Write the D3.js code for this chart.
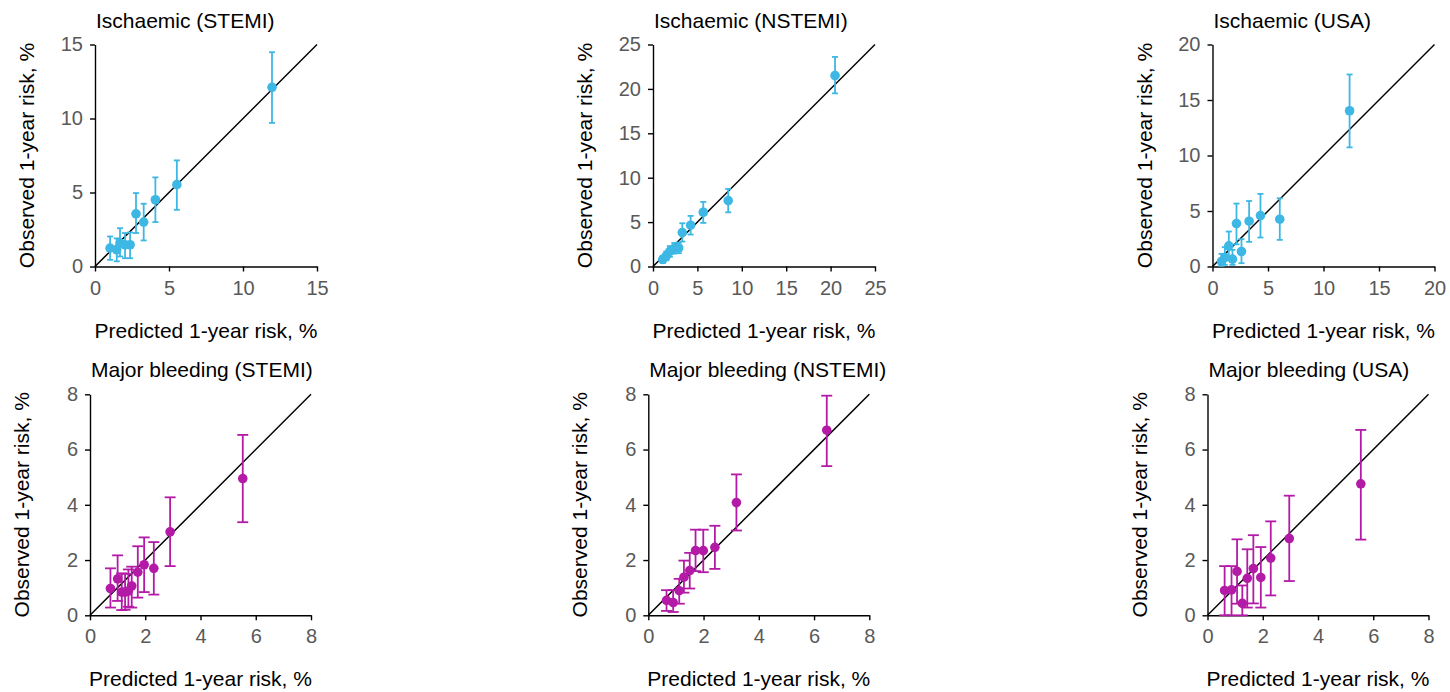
<!DOCTYPE html>
<html><head><meta charset="utf-8">
<script src="https://cdn.jsdelivr.net/npm/d3@7"></script>
<style>body{margin:0;background:#fff}svg{display:block}text{font-family:"Liberation Sans",Arial,sans-serif}</style>
</head><body><svg id="c" width="1450" height="692"></svg>
<script>
// ---- data ----
const titles = ["Ischaemic (STEMI)","Ischaemic (NSTEMI)","Ischaemic (USA)","Major bleeding (STEMI)","Major bleeding (NSTEMI)","Major bleeding (USA)"];
const axisMax = [15,25,20,8,8,8];
const tickStep = [5,5,5,2,2,2];
const xLabel = "Predicted 1-year risk, %";
const yLabel = "Observed 1-year risk, %";

const isStemiPred = [1.02,1.47,1.69,2.03,2.37,2.77,3.29,4.08,5.53,11.96];
const isStemiObs  = [1.24,1.13,1.58,1.47,1.47,3.56,3.00,4.51,5.53,12.11];
const isStemiLo   = [0.45,0.35,0.68,0.56,0.56,2.26,1.76,3.00,3.83,9.70];
const isStemiHi   = [2.03,1.90,2.59,2.26,2.30,4.96,4.24,6.02,7.17,14.48];

const isNstemiPred = [1.1,1.5,1.9,2.4,2.9,3.3,4.24,5.66,8.47,20.5];
const isNstemiObs  = [0.8,1.2,1.7,2.05,2.1,3.82,4.65,6.11,7.42,21.5];
const isNstemiLo   = [0.4,0.7,1.1,1.45,1.5,2.81,3.60,4.91,6.10,19.5];
const isNstemiHi   = [1.2,1.7,2.3,2.65,2.7,4.87,5.70,7.27,8.73,23.6];

const isUsaPred = [0.81,1.11,1.47,1.80,2.16,2.61,3.30,4.32,6.06,12.35];
const isUsaObs  = [0.45,0.81,1.86,0.66,3.87,1.35,4.08,4.59,4.26,14.03];
const isUsaLo   = [0.06,0.15,0.60,0.15,2.00,0.30,2.22,2.61,2.40,10.73];
const isUsaHi   = [1.14,1.74,3.15,1.50,5.67,2.46,5.90,6.54,6.15,17.30];

const blStemiPred = [0.74,1.00,1.15,1.27,1.39,1.51,1.73,1.96,2.31,2.90,5.53];
const blStemiObs  = [0.97,1.32,0.84,0.84,0.88,1.06,1.56,1.83,1.70,3.02,4.95];
const blStemiLo   = [0.28,0.52,0.19,0.20,0.31,0.28,0.64,0.84,0.75,1.78,3.37];
const blStemiHi   = [1.70,2.17,1.52,1.50,1.66,1.76,2.50,2.82,2.65,4.27,6.53];

const blNstemiPred = [0.66,0.90,1.12,1.29,1.50,1.71,1.99,2.41,3.19,6.46];
const blNstemiObs  = [0.54,0.46,0.89,1.38,1.62,2.34,2.34,2.46,4.08,6.70];
const blNstemiLo   = [0.16,0.12,0.42,0.82,0.97,1.60,1.56,1.68,3.07,5.40];
const blNstemiHi   = [0.91,0.91,1.32,1.98,2.26,3.10,3.10,3.24,5.10,7.95];

const blUsaPred = [0.62,0.87,1.07,1.26,1.44,1.66,1.93,2.29,2.96,5.55];
const blUsaObs  = [0.90,0.92,1.59,0.43,1.34,1.69,1.37,2.07,2.78,4.76];
const blUsaLo   = [0.00,0.00,0.42,0.00,0.28,0.43,0.28,0.72,1.24,2.74];
const blUsaHi   = [1.78,1.78,2.75,1.08,2.39,2.90,2.47,3.40,4.33,6.71];

const seriesPred = [isStemiPred,isNstemiPred,isUsaPred,blStemiPred,blNstemiPred,blUsaPred];
const seriesObs  = [isStemiObs,isNstemiObs,isUsaObs,blStemiObs,blNstemiObs,blUsaObs];
const seriesLo   = [isStemiLo,isNstemiLo,isUsaLo,blStemiLo,blNstemiLo,blUsaLo];
const seriesHi   = [isStemiHi,isNstemiHi,isUsaHi,blStemiHi,blNstemiHi,blUsaHi];

// ---- layout / style ----
const colors = ["#3DB7E4","#3DB7E4","#3DB7E4","#B31AA6","#B31AA6","#B31AA6"];
const panelLeft = [95,653,1212.5,90,648.3,1207.5];
const panelTop  = [44.5,44.5,44.5,394.3,394.3,394.3];
const panelSize = [222,222,222,221,221,221];
const capW = [6,6,6,11,11,11];

const svg = d3.select("#c");
titles.forEach((t,i)=>{
  const g = svg.append("g").attr("transform",`translate(${panelLeft[i]},${panelTop[i]})`);
  const s = panelSize[i];
  const x = d3.scaleLinear().domain([0,axisMax[i]]).range([0,s]);
  const y = d3.scaleLinear().domain([0,axisMax[i]]).range([s,0]);
  const ticks = d3.range(0,axisMax[i]+0.001,tickStep[i]);
  const xa = g.append("g").attr("transform",`translate(0,${s})`)
    .call(d3.axisBottom(x).tickValues(ticks).tickSize(5).tickPadding(9).tickSizeOuter(0));
  const ya = g.append("g")
    .call(d3.axisLeft(y).tickValues(ticks).tickSize(5).tickPadding(7).tickSizeOuter(0));
  [xa,ya].forEach(a=>{
    a.selectAll("path,line").attr("stroke","#000").attr("stroke-width",1.4);
    a.selectAll("text").attr("fill","#595959").style("font-size","20px");
  });
  g.append("line").attr("x1",x(0)).attr("y1",y(0)).attr("x2",x(axisMax[i])).attr("y2",y(axisMax[i]))
    .attr("stroke","#000").attr("stroke-width",1.5);
  const data = seriesPred[i].map((p,k)=>({p, o:seriesObs[i][k], lo:seriesLo[i][k], hi:seriesHi[i][k]}));
  const c = colors[i];
  const eb = g.append("g").attr("stroke",c).attr("stroke-width",1.8);
  eb.selectAll(".v").data(data).join("line").attr("class","v")
    .attr("x1",d=>x(d.p)).attr("x2",d=>x(d.p)).attr("y1",d=>y(d.lo)).attr("y2",d=>y(d.hi));
  eb.selectAll(".t").data(data).join("line").attr("class","t")
    .attr("x1",d=>x(d.p)-capW[i]/2).attr("x2",d=>x(d.p)+capW[i]/2).attr("y1",d=>y(d.hi)).attr("y2",d=>y(d.hi));
  eb.selectAll(".b").data(data).join("line").attr("class","b")
    .attr("x1",d=>x(d.p)-capW[i]/2).attr("x2",d=>x(d.p)+capW[i]/2).attr("y1",d=>y(d.lo)).attr("y2",d=>y(d.lo));
  g.append("g").selectAll("circle").data(data).join("circle")
    .attr("cx",d=>x(d.p)).attr("cy",d=>y(d.o)).attr("r",4.8).attr("fill",c);
  g.append("text").attr("x",1).attr("y",-17).attr("fill","#000").style("font-size","21px").text(t);
  g.append("text").attr("x",s/2).attr("y",s+71).attr("text-anchor","middle").attr("fill","#000")
    .style("font-size","21px").text(xLabel);
  g.append("text").attr("transform",`translate(${-61},${s/2}) rotate(-90)`).attr("text-anchor","middle")
    .attr("fill","#000").style("font-size","21px").text(yLabel);
});
</script></body></html>
